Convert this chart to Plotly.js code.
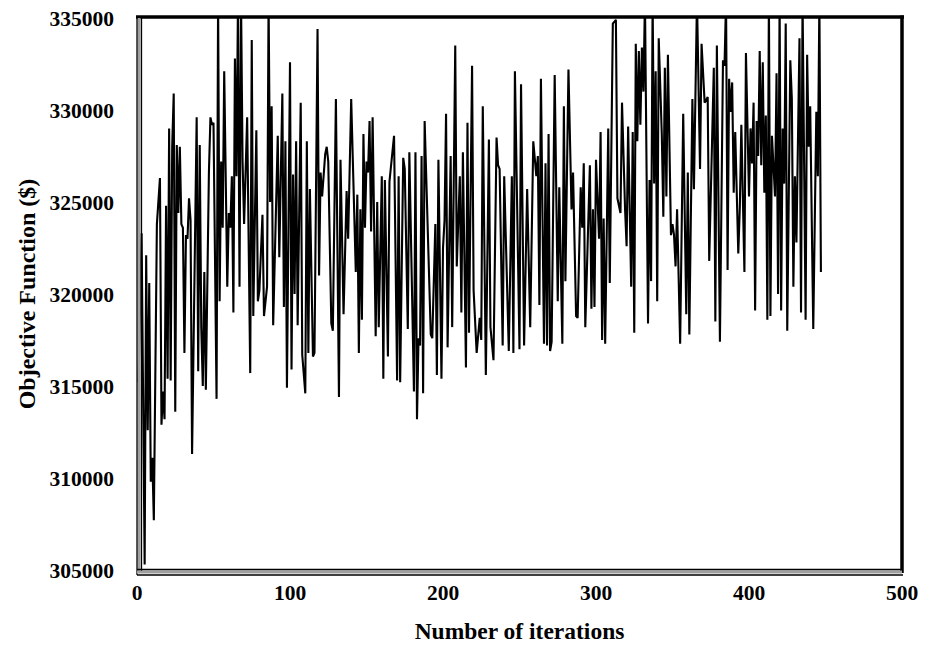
<!DOCTYPE html>
<html>
<head>
<meta charset="utf-8">
<script src="https://cdn.plot.ly/plotly-3.0.1.min.js"></script>
<style>
  html, body { margin: 0; padding: 0; background: #ffffff; }
  #chart { width: 933px; height: 648px; }
</style>
</head>
<body>
<div id="chart"></div>
<script>
// Iteration numbers of the line's vertices
const iterations = [
  1, 3, 5, 6, 7, 8, 9, 10, 11, 13, 15, 16, 17, 18, 19, 20, 21, 22, 23, 24,
  25, 26, 27, 28, 29, 30, 31, 32, 33, 34, 35, 36, 39, 40, 41, 42, 43, 44, 45, 47,
  48, 49, 50, 52, 53, 54, 55, 56, 57, 59, 60, 61,
  62, 63, 64, 65, 66, 67, 68, 69, 70, 72, 74, 75, 76, 78, 79, 80, 82, 83,
  85, 86, 87, 88, 89, 92, 93, 95, 96, 97, 98, 100, 101, 102, 103, 104, 105, 107, 108, 110,
  111, 112, 113, 115, 116, 118, 119, 120, 121, 123, 124,
  125, 127, 128, 130, 132, 133, 135, 137, 138, 140, 143, 144, 145, 146, 147, 148, 149, 150, 151, 152,
  153, 154, 156, 157, 158, 160, 161, 162, 164, 165, 168, 170, 171, 172, 174, 175, 177, 178, 181, 182,
  183, 184, 185, 186, 187, 188,
  192, 193, 195, 196, 197, 199, 200, 201, 202, 203, 205, 206, 208, 209, 211, 212, 213, 215, 216, 217,
  219, 220, 222, 224, 225, 226, 228, 230, 231, 233, 235, 236, 237, 239, 240, 243, 245, 246, 247, 250,
  251, 253,
  255, 257, 259, 261, 262, 263, 264, 266, 267, 268, 269, 270, 271, 273, 275, 276, 278, 279, 280, 282,
  284, 285, 287, 288, 290, 291, 292, 293, 296, 297, 298, 299, 300, 302, 303, 304, 305, 306, 308, 309,
  311, 313, 314, 316, 317,
  319, 320, 321, 323, 324, 325, 326, 327, 328, 329, 330, 331, 332, 334, 335, 336, 337, 338, 339, 340,
  341, 343, 344, 345, 346, 347, 349, 350, 351, 352, 353, 355, 357, 359, 360, 361, 363, 364, 366, 368,
  369, 371, 373, 374, 377, 378, 379, 381,
  383, 384, 385, 386, 387, 388, 389, 390, 391, 393, 394, 395, 397, 398, 400, 401, 402, 403, 404, 405,
  406, 407, 408, 409, 410, 411, 412, 413, 414, 415, 417, 418, 419, 420, 421, 422, 423, 424, 425, 427,
  428, 429, 430, 431, 433, 434, 435, 437, 438, 439, 440, 442, 444, 445, 446, 447
];

// Objective function value ($) at each vertex
const objective = [
  315200, 323300, 305300, 322100, 312600, 320600, 309800, 311100, 307700, 323800, 326300, 312900, 314700, 313200, 324800, 315400, 329000, 315300, 328000, 330900,
  313600, 328100, 324400, 328000, 323800, 323600, 316800, 323200, 323000, 325200, 324000, 311300, 329600, 315800, 328100, 318200, 315000, 321200, 314800, 326600,
  329600, 329200, 329300, 314300, 336000, 319600, 327200, 323600, 332100, 320400, 324400, 323600,
  326400, 319000, 332800, 326400, 336000, 320400, 336000, 327200, 323800, 329600, 315700, 333800, 318800, 328900, 319600, 320200, 324300, 318800,
  320400, 336000, 325000, 330200, 318300, 328600, 322000, 330900, 319300, 328300, 314900, 332600, 315900, 326500, 320000, 328300, 318300, 330400, 316700, 314600,
  328300, 316800, 325700, 316600, 316800, 334400, 321000, 326600, 325300, 327600, 328000,
  327200, 318400, 318000, 330600, 314400, 327300, 318900, 325600, 323000, 330600, 321200, 325400, 316800, 324600, 318600, 328700, 323600, 327200, 326600, 329400,
  323400, 329600, 317700, 325000, 318200, 326400, 315400, 326200, 316600, 326100, 328600, 315300, 326400, 315200, 327400, 326800, 318100, 327700, 314700, 327700,
  313200, 317600, 317200, 327500, 314600, 329400,
  317800, 317600, 323800, 315600, 327300, 315400, 322500, 324000, 329800, 317100, 327500, 318200, 333500, 321500, 326400, 319000, 327700, 316000, 329300, 317900,
  332400, 320200, 316800, 318700, 317500, 330200, 315600, 328400, 318200, 316400, 328500, 327000, 326800, 317200, 326400, 316900, 326400, 316800, 332100, 317000,
  331400, 317200,
  325700, 318200, 328300, 326400, 327500, 319400, 331700, 317300, 327100, 317200, 328700, 316900, 317400, 331900, 319600, 325800, 317300, 330200, 320700, 332200,
  324600, 326600, 318800, 318700, 325800, 323600, 327100, 318200, 327000, 319200, 324600, 319300, 327300, 323000, 328800, 317500, 324100, 317300, 329000, 320600,
  334700, 334900, 325200, 324400, 330400,
  324600, 322600, 329100, 320400, 328800, 317900, 333600, 328300, 333200, 329200, 333400, 331000, 336000, 318400, 326200, 320700, 336000, 326000, 332100, 319600,
  333900, 328700, 324200, 332300, 325300, 333000, 323200, 323800, 323200, 321500, 324600, 317300, 329800, 318900, 326600, 317800, 330600, 325700, 336000, 326800,
  333600, 330400, 330700, 321800, 332300, 318500, 333500, 317400,
  332700, 332400, 336000, 321300, 331700, 329900, 331500, 325500, 328800, 322200, 324700, 329200, 321200, 333100, 325300, 329000, 327100, 330400, 319100, 329400,
  327500, 333200, 327000, 332600, 325500, 329700, 318600, 336000, 318800, 328600, 325300, 332000, 320000, 336000, 319100, 329000, 326000, 334700, 318000, 332700,
  330600, 320400, 326400, 322800, 333900, 319000, 336000, 318600, 333000, 328000, 330200, 318100, 329900, 326400, 336000, 321200
];

const xTickVals = [0, 100, 200, 300, 400, 500];
const yTickVals = [305000, 310000, 315000, 320000, 325000, 330000, 335000];

const W = 765, H = 552; // plot area size in px
const px = v => v / W, py = v => v / H;

const frame = [];
// top and right: thick black
frame.push({type: 'line', xref: 'paper', yref: 'paper', x0: -px(1), x1: 1 + px(2), y0: 1 + py(1), y1: 1 + py(1), line: {color: '#000', width: 3.5}, layer: 'above'});
frame.push({type: 'line', xref: 'paper', yref: 'paper', x0: 1, x1: 1, y0: -py(3), y1: 1 + py(2.5), line: {color: '#000', width: 3.5}, layer: 'above'});
// left: double line
frame.push({type: 'line', xref: 'paper', yref: 'paper', x0: px(2), x1: px(2), y0: -py(3), y1: 1, line: {color: '#a0a0a0', width: 3}, layer: 'above'});
frame.push({type: 'line', xref: 'paper', yref: 'paper', x0: 0, x1: 0, y0: -py(5), y1: 1, line: {color: '#000', width: 1.3}, layer: 'above'});
frame.push({type: 'line', xref: 'paper', yref: 'paper', x0: px(4.5), x1: px(4.5), y0: -py(1), y1: 1, line: {color: '#000', width: 1.3}, layer: 'above'});
// bottom: double line
frame.push({type: 'line', xref: 'paper', yref: 'paper', x0: 0, x1: 1, y0: -py(2), y1: -py(2), line: {color: '#a0a0a0', width: 3}, layer: 'above'});
frame.push({type: 'line', xref: 'paper', yref: 'paper', x0: 0, x1: 1, y0: py(0.5), y1: py(0.5), line: {color: '#000', width: 1.3}, layer: 'above'});
frame.push({type: 'line', xref: 'paper', yref: 'paper', x0: 0, x1: 1 + px(1), y0: -py(5), y1: -py(5), line: {color: '#000', width: 1.3}, layer: 'above'});

const fam = '"Liberation Serif", "Times New Roman", serif';

const trace = {
  x: iterations,
  y: objective,
  type: 'scatter',
  mode: 'lines',
  line: {color: '#000', width: 2.1},
  hoverinfo: 'x+y'
};

const layout = {
  width: 933,
  height: 648,
  margin: {l: 137, r: 31, t: 18, b: 78},
  paper_bgcolor: '#ffffff',
  plot_bgcolor: '#ffffff',
  showlegend: false,
  font: {family: fam, size: 20, color: '#000'},
  xaxis: {
    range: [0, 500],
    tickvals: xTickVals,
    ticktext: xTickVals.map(String),
    showgrid: false,
    zeroline: false,
    showline: false,
    ticks: '',
    ticklabelstandoff: 7,
    tickfont: {family: fam, size: 21.5, color: '#000', weight: 'bold'},
    title: {text: '<b>Number of iterations</b>', font: {family: fam, size: 23.5, color: '#000'}, standoff: 19},
    automargin: false
  },
  yaxis: {
    range: [305000, 335000],
    tickvals: yTickVals,
    ticktext: yTickVals.map(String),
    showgrid: false,
    zeroline: false,
    showline: false,
    ticks: '',
    ticklabelstandoff: 22,
    tickfont: {family: fam, size: 21.5, color: '#000', weight: 'bold'},
    title: {text: '<b>Objective Function ($)</b>', font: {family: fam, size: 24, color: '#000'}, standoff: 7},
    automargin: false
  },
  shapes: frame
};

Plotly.newPlot('chart', [trace], layout, {displayModeBar: false, staticPlot: true});
</script>
</body>
</html>
